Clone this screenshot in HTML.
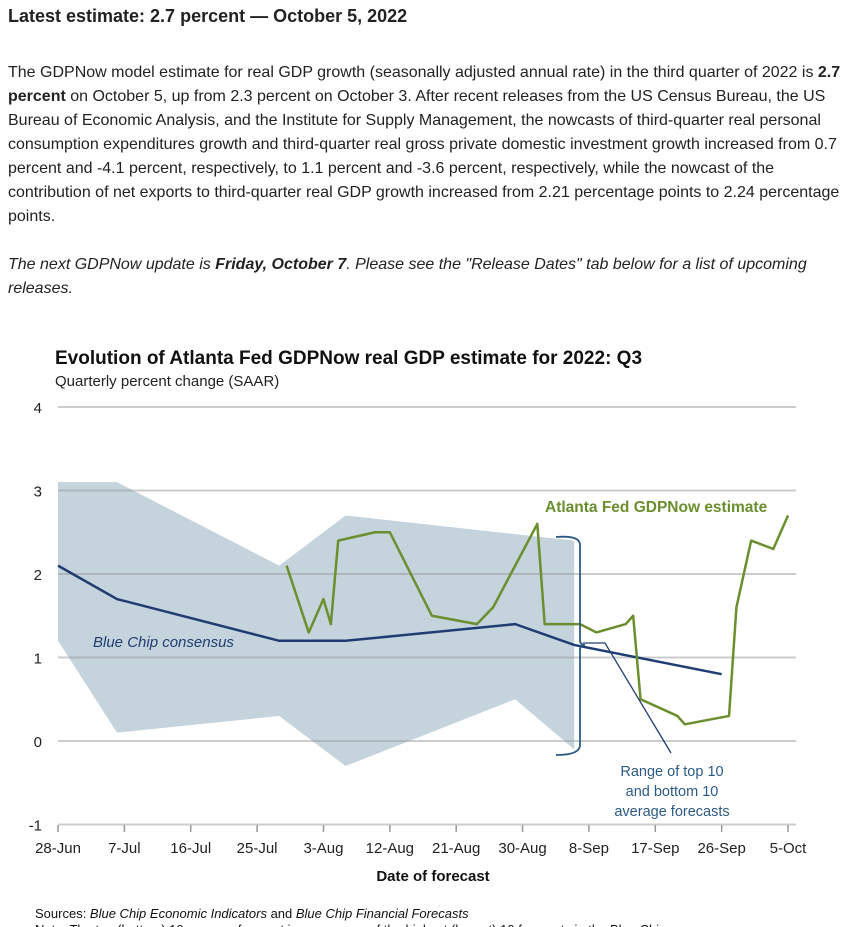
<!DOCTYPE html>
<html><head><meta charset="utf-8"><style>
body{margin:0;width:860px;height:927px;overflow:hidden;background:#fff;font-family:"Liberation Sans",Arial,sans-serif;color:#222}
h2{position:absolute;left:8px;top:6px;margin:0;font-size:18px;font-weight:bold}
p{position:absolute;left:8px;margin:0;font-size:16px;line-height:24px;width:850px}
</style></head><body>
<h2>Latest estimate: 2.7 percent — October 5, 2022</h2>
<p style="top:61px">The GDPNow model estimate for real GDP growth (seasonally adjusted annual rate) in the third quarter of 2022 is <b>2.7 percent</b> on October 5, up from 2.3 percent on October 3. After recent releases from the US Census Bureau, the US Bureau of Economic Analysis, and the Institute for Supply Management, the nowcasts of third-quarter real personal consumption expenditures growth and third-quarter real gross private domestic investment growth increased from 0.7 percent and -4.1 percent, respectively, to 1.1 percent and -3.6 percent, respectively, while the nowcast of the contribution of net exports to third-quarter real GDP growth increased from 2.21 percentage points to 2.24 percentage points.</p>
<p style="top:253px;font-style:italic">The next GDPNow update is <b>Friday, October 7</b>. Please see the "Release Dates" tab below for a list of upcoming releases.</p>
<svg id="chart" width="860" height="927" style="position:absolute;left:0;top:0" font-family="Liberation Sans,Arial,sans-serif"></svg>
<script>
const xTickLabels=["28-Jun","7-Jul","16-Jul","25-Jul","3-Aug","12-Aug","21-Aug","30-Aug","8-Sep","17-Sep","26-Sep","5-Oct"];
const yTicks=[4,3,2,1,0,-1];
const gdpDays=[31,34,36,37,38,43,45,50.7,56.8,59,65,66,70.8,73,77,78,79,84,85,91,92,94,97,99];
const gdpVals=[2.1,1.3,1.7,1.4,2.4,2.5,2.5,1.5,1.4,1.6,2.6,1.4,1.4,1.3,1.4,1.5,0.5,0.3,0.2,0.3,1.6,2.4,2.3,2.7];
const bcDays=[0,8,30,39,62,70,90];
const bcVals=[2.1,1.7,1.2,1.2,1.4,1.15,0.8];
const bandUpDays=[0,8,30,39,70];
const bandUpVals=[3.1,3.1,2.1,2.7,2.4];
const bandLoDays=[0,8,30,39,62,70];
const bandLoVals=[1.2,0.1,0.3,-0.3,0.5,-0.1];
const svg=document.getElementById('chart');const NS='http://www.w3.org/2000/svg';
const X=d=>58+d*7.374, Y=v=>741-v*83.5;
function mk(t,a,txt){const e=document.createElementNS(NS,t);for(const k in a)e.setAttribute(k,a[k]);if(txt!==undefined)e.textContent=txt;svg.appendChild(e);return e;}
let e;
e=mk('text',{x:55,y:364,'font-size':19,'font-weight':'bold',fill:'#111'},'Evolution of Atlanta Fed GDPNow real GDP estimate for 2022: Q3');


e=mk('text',{x:55,y:386,'font-size':15,fill:'#222'},'Quarterly percent change (SAAR)');


let pts=bandUpDays.map((d,i)=>X(d)+','+Y(bandUpVals[i]));
for(let i=bandLoDays.length-1;i>=0;i--)pts.push(X(bandLoDays[i])+','+Y(bandLoVals[i]));
e=mk('polygon',{points:pts.join(' '),fill:'#c5d3dc'});


yTicks.forEach(v=>{
 e=mk('line',{x1:58,x2:796,y1:Y(v),y2:Y(v),stroke:'#999','stroke-opacity':0.5,'stroke-width':2});
 
 
 e=mk('text',{x:42,y:Y(v)+6,'font-size':15,'text-anchor':'end',fill:'#222'},String(v));
 
 
});
xTickLabels.forEach((l,i)=>{
 const x=X(i*9);
 e=mk('line',{x1:x,x2:x,y1:825,y2:832,stroke:'#999','stroke-width':1.5});
 
 
 e=mk('text',{x:x,y:853,'font-size':15,'text-anchor':'middle',fill:'#222'},l);
 
 
});
e=mk('text',{x:433,y:881,'font-size':15,'font-weight':'bold','text-anchor':'middle',fill:'#111'},'Date of forecast');


e=mk('polyline',{points:bcDays.map((d,i)=>X(d)+','+Y(bcVals[i])).join(' '),fill:'none',stroke:'#1f3d73','stroke-width':2.5});


e=mk('polyline',{points:gdpDays.map((d,i)=>X(d)+','+Y(gdpVals[i])).join(' '),fill:'none',stroke:'#6b8e2f','stroke-width':2.5,'stroke-linejoin':'round'});


e=mk('path',{d:'M556,537 Q580,535 580,545 L580,640 Q580,645 585,645 Q580,645 580,650 L580,745 Q580,755 556,755',fill:'none',stroke:'#2c5a85','stroke-width':1.8});


e=mk('polyline',{points:'583,643 605,643 671,753',fill:'none',stroke:'#1f3d73','stroke-width':1.3});


e=mk('text',{x:545,y:512,'font-size':15.5,'font-weight':'bold',fill:'#6b8e2f'},'Atlanta Fed GDPNow estimate');


e=mk('text',{x:93,y:647,'font-size':15,'font-style':'italic',fill:'#1f3d73'},'Blue Chip consensus');


['Range of top 10','and bottom 10','average forecasts'].forEach((t,i)=>{
 e=mk('text',{x:672,y:776+i*20,'font-size':14.5,'text-anchor':'middle',fill:'#2c5a85'},t);
 
 
});
e=mk('text',{x:35,y:918,'font-size':13,fill:'#111'});
e.innerHTML='Sources: <tspan font-style="italic">Blue Chip Economic Indicators</tspan> and <tspan font-style="italic">Blue Chip Financial Forecasts</tspan>';


e=mk('text',{x:35,y:934,'font-size':13,fill:'#111'},'Note: The top (bottom) 10 average forecast is an average of the highest (lowest) 10 forecasts in the Blue Chip survey.');


</script>
</body></html>
